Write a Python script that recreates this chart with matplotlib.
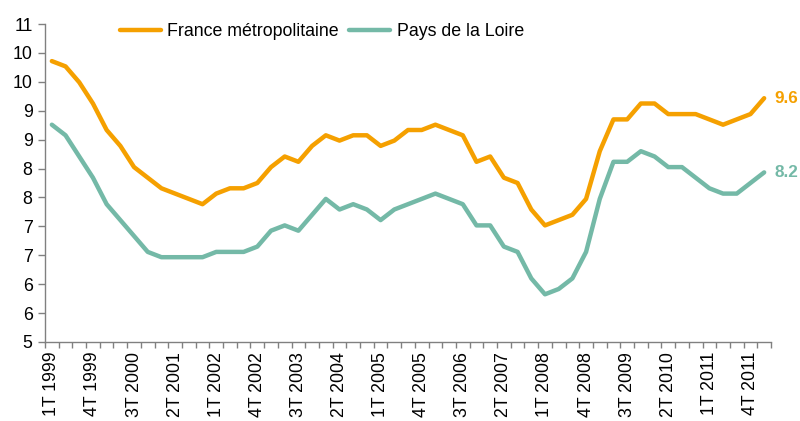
import numpy as np
import matplotlib
matplotlib.use("Agg")
import matplotlib.pyplot as plt
from matplotlib.ticker import FormatStrFormatter, FixedLocator

plt.rcParams['font.family'] = ['Liberation Sans', 'DejaVu Sans']

# quarters 1T 1999 .. 1T 2012
quarters = [f"{q}T {y}" for y in range(1999, 2013) for q in range(1, 5)][:53]

france = [10.3, 10.2, 9.9, 9.5, 9.0, 8.7, 8.3, 8.1, 7.9, 7.8,
          7.7, 7.6, 7.8, 7.9, 7.9, 8.0, 8.3, 8.5, 8.4, 8.7,
          8.9, 8.8, 8.9, 8.9, 8.7, 8.8, 9.0, 9.0, 9.1, 9.0,
          8.9, 8.4, 8.5, 8.1, 8.0, 7.5, 7.2, 7.3, 7.4, 7.7,
          8.6, 9.2, 9.2, 9.5, 9.5, 9.3, 9.3, 9.3, 9.2, 9.1,
          9.2, 9.3, 9.6]

loire = [9.1, 8.9, 8.5, 8.1, 7.6, 7.3, 7.0, 6.7, 6.6, 6.6,
         6.6, 6.6, 6.7, 6.7, 6.7, 6.8, 7.1, 7.2, 7.1, 7.4,
         7.7, 7.5, 7.6, 7.5, 7.3, 7.5, 7.6, 7.7, 7.8, 7.7,
         7.6, 7.2, 7.2, 6.8, 6.7, 6.2, 5.9, 6.0, 6.2, 6.7,
         7.7, 8.4, 8.4, 8.6, 8.5, 8.3, 8.3, 8.1, 7.9, 7.8,
         7.8, 8.0, 8.2]

orange = '#F5A000'
teal = '#74B9A7'
grey = '#808080'

fig = plt.figure(figsize=(8, 4.21), dpi=100)
ax = fig.add_axes([45 / 800, 1 - 342 / 421, 726 / 800, 318 / 421])

x = np.arange(len(quarters))
ax.plot(x, france, color=orange, lw=3.2, label='France métropolitaine',
        solid_joinstyle='round', solid_capstyle='round')
ax.plot(x, loire, color=teal, lw=3.2, label='Pays de la Loire',
        solid_joinstyle='round', solid_capstyle='round')

ax.set_xlim(-0.5, len(quarters) - 0.5)
ax.set_ylim(5, 11)

ax.set_yticks(np.linspace(5, 11, 12))
ax.yaxis.set_major_formatter(FormatStrFormatter('%.0f'))
ax.tick_params(axis='y', direction='out', length=5, width=1, color=grey,
               labelsize=12.8, pad=4)

ax.set_xticks(x[::3])
ax.set_xticklabels(quarters[::3], rotation=90)
ax.xaxis.set_minor_locator(FixedLocator(np.arange(-0.5, len(quarters), 1)))
ax.tick_params(axis='x', which='major', length=0, labelsize=12.8, pad=7)
ax.tick_params(axis='x', which='minor', direction='out', length=4, width=1, color=grey)

for s in ['top', 'right']:
    ax.spines[s].set_visible(False)
for s in ['left', 'bottom']:
    ax.spines[s].set_color(grey)
    ax.spines[s].set_linewidth(1)

ax.annotate(f"{france[-1]:.1f}", xy=(x[-1], france[-1]), xytext=(7.5, 0),
            textcoords='offset points', color=orange, fontsize=12.3,
            fontweight='bold', va='center', ha='left', annotation_clip=False)
ax.annotate(f"{loire[-1]:.1f}", xy=(x[-1], loire[-1]), xytext=(7.5, 0),
            textcoords='offset points', color=teal, fontsize=12.3,
            fontweight='bold', va='center', ha='left', annotation_clip=False)

fig.legend(loc='center left', bbox_to_anchor=(120 / 800, 1 - 32 / 421),
           ncol=2, frameon=False, fontsize=12.8, handlelength=2.3,
           handletextpad=0.35, columnspacing=0.6, borderpad=0, borderaxespad=0)

fig.savefig('out.png', dpi=100)
